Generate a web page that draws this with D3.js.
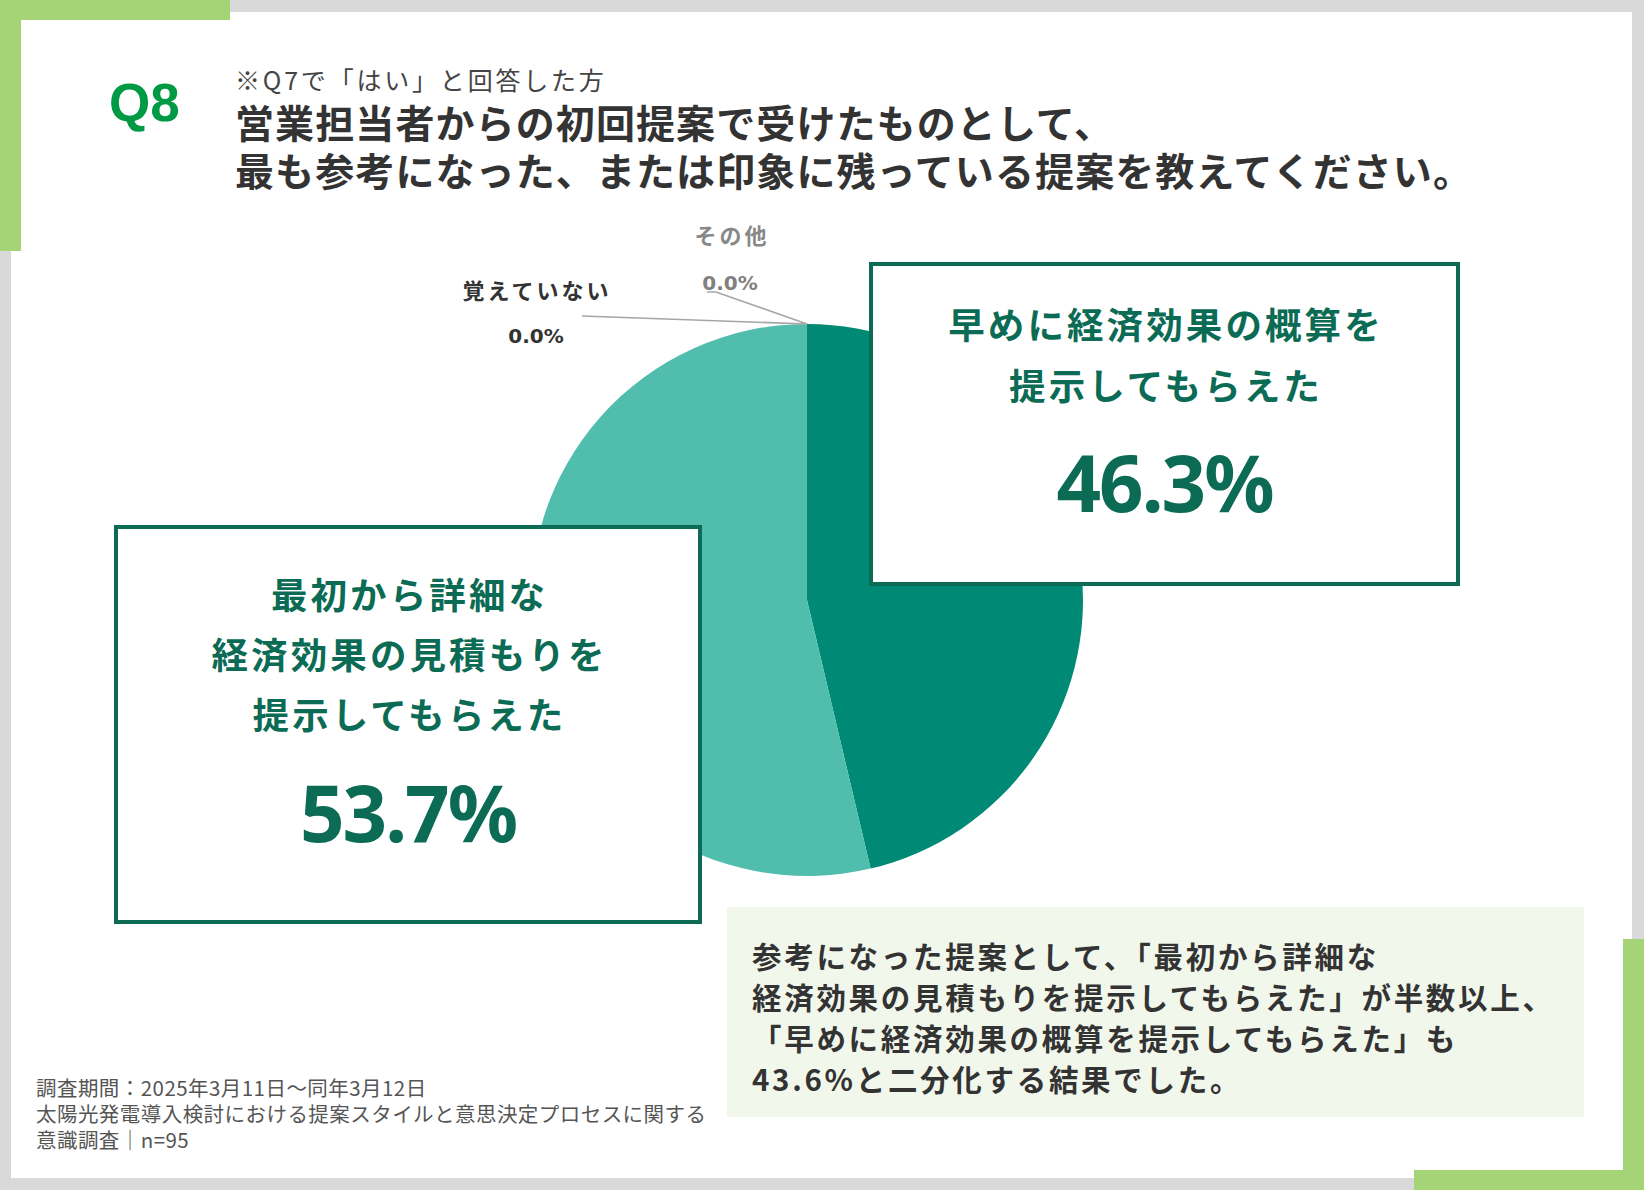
<!DOCTYPE html>
<html>
<head>
<meta charset="utf-8">
<script src="https://cdn.jsdelivr.net/npm/d3@7/dist/d3.min.js"></script>
<style>
  html, body { margin: 0; padding: 0; background: #d9d9d9; }
  svg { display: block; }
</style>
</head>
<body>
<svg id="chart" width="1644" height="1190"></svg>
<script>
// ---- data ----
const categories = ["早めに経済効果の概算を提示してもらえた", "最初から詳細な経済効果の見積もりを提示してもらえた", "覚えていない", "その他"];
const values = [46.3, 53.7, 0.0, 0.0];
const sliceColors = ["#008a76", "#50bdad", "#50bdad", "#50bdad"];
const box1Lines = ["早めに経済効果の概算を", "提示してもらえた"];
const box2Lines = ["最初から詳細な", "経済効果の見積もりを", "提示してもらえた"];
const titleLines = ["営業担当者からの初回提案で受けたものとして、", "最も参考になった、または印象に残っている提案を教えてください。"];
const subTitle = "※Q7で「はい」と回答した方";
const summaryLines = ["参考になった提案として、「最初から詳細な", "経済効果の見積もりを提示してもらえた」が半数以上、", "「早めに経済効果の概算を提示してもらえた」も", "43.6%と二分化する結果でした。"];
const footerLines = ["調査期間：2025年3月11日～同年3月12日", "太陽光発電導入検討における提案スタイルと意思決定プロセスに関する", "意識調査｜n=95"];

const JP = "'Noto Sans CJK JP', 'Noto Sans', sans-serif";
const svg = d3.select("#chart");

// ---- background frame ----
svg.append("rect").attr("x", 0).attr("y", 0).attr("width", 1644).attr("height", 1190).attr("fill", "#d9d9d9");
svg.append("rect").attr("x", 11).attr("y", 12).attr("width", 1621).attr("height", 1166).attr("fill", "#ffffff");
const green = "#a5d476";
svg.append("rect").attr("x", 0).attr("y", 0).attr("width", 230).attr("height", 20).attr("fill", green);
svg.append("rect").attr("x", 0).attr("y", 0).attr("width", 21).attr("height", 251).attr("fill", green);
svg.append("rect").attr("x", 1623).attr("y", 939).attr("width", 21).attr("height", 251).attr("fill", green);
svg.append("rect").attr("x", 1414).attr("y", 1170).attr("width", 230).attr("height", 20).attr("fill", green);

// ---- header ----
svg.append("text").attr("x", 109).attr("y", 121)
  .attr("font-family", "'Liberation Sans', Arial, sans-serif").attr("font-weight", 700)
  .attr("font-size", 53).attr("fill", "#009944").text("Q8");
svg.append("text").attr("x", 235).attr("y", 90)
  .attr("font-family", JP).attr("font-weight", 400).attr("font-size", 25)
  .attr("letter-spacing", 2.8).attr("fill", "#444").text(subTitle);
svg.selectAll("text.title").data(titleLines).join("text").attr("class", "title")
  .attr("x", 235).attr("y", (d, i) => 138 + i * 48)
  .attr("font-family", JP).attr("font-weight", 700).attr("font-size", 39)
  .attr("letter-spacing", 1.1)
  .attr("fill", "#333").text(d => d);

// ---- pie ----
const cx = 807, cy = 600, R = 276;
const pie = d3.pie().sort(null).value(d => d.v);
const arcs = pie(values.map((v, i) => ({ v, name: categories[i], color: sliceColors[i] })));
const arc = d3.arc().innerRadius(0).outerRadius(R);
const g = svg.append("g").attr("transform", `translate(${cx},${cy})`);
g.selectAll("path").data(arcs.filter(a => a.data.v > 0)).join("path")
  .attr("d", arc).attr("fill", d => d.data.color);

// zero-value slices: leader lines and labels
const zeroArcs = arcs.filter(a => a.data.v === 0);
function edgePoint(a) {
  const ang = a.startAngle;
  return [cx + R * Math.sin(ang), cy - R * Math.cos(ang)];
}
const fmt = d3.format(".1f");
zeroArcs.forEach(a => {
  const [px, py] = edgePoint(a);
  if (a.data.name === "覚えていない") {
    svg.append("path").attr("d", `M${px},${py} L${px - 225},${py - 8}`)
      .attr("stroke", "#a6a6a6").attr("stroke-width", 1.6).attr("fill", "none");
    svg.append("text").attr("x", px - 270).attr("y", py - 25).attr("text-anchor", "middle")
      .attr("font-family", JP).attr("font-weight", 700).attr("font-size", 22).attr("letter-spacing", 3)
      .attr("fill", "#333").text(a.data.name);
    svg.append("text").attr("x", px - 271).attr("y", py + 19).attr("text-anchor", "middle")
      .attr("font-family", "'DejaVu Sans', Verdana, sans-serif").attr("font-weight", 700).attr("font-size", 20)
      .attr("fill", "#333").text(fmt(a.data.v) + "%");
  } else {
    svg.append("path").attr("d", `M${px},${py} L${px - 91},${py - 32} L${px - 100},${py - 32}`)
      .attr("stroke", "#a6a6a6").attr("stroke-width", 1.6).attr("fill", "none");
    svg.append("text").attr("x", px - 75).attr("y", py - 80).attr("text-anchor", "middle")
      .attr("font-family", JP).attr("font-weight", 700).attr("font-size", 22).attr("letter-spacing", 3)
      .attr("fill", "#888").text(a.data.name);
    svg.append("text").attr("x", px - 77).attr("y", py - 34).attr("text-anchor", "middle")
      .attr("font-family", "'DejaVu Sans', Verdana, sans-serif").attr("font-weight", 700).attr("font-size", 20)
      .attr("fill", "#808080").text(fmt(a.data.v) + "%");
  }
});

// ---- callout boxes ----
const boxColor = "#0b6b55";
function callout(x, y, w, h, lines, lineY0, lineStep, value, numY) {
  svg.append("rect").attr("x", x).attr("y", y).attr("width", w).attr("height", h)
    .attr("fill", "#fff").attr("stroke", boxColor).attr("stroke-width", 4);
  const mid = x + w / 2;
  lines.forEach((t, i) => {
    svg.append("text").attr("x", mid + 1.5).attr("y", lineY0 + i * lineStep).attr("text-anchor", "middle")
      .attr("font-family", JP).attr("font-weight", 700).attr("font-size", 36.5).attr("letter-spacing", 3.1)
      .attr("fill", boxColor).text(t);
  });
  svg.append("text").attr("x", mid).attr("y", numY).attr("text-anchor", "middle")
    .attr("font-family", "'Noto Sans', 'Open Sans', sans-serif").attr("font-weight", 700).attr("font-size", 78)
    .attr("letter-spacing", -2)
    .attr("fill", boxColor).text(fmt(value) + "%");
}
callout(871, 264, 587, 320, box1Lines, 339, 61, values[0], 512);
callout(116, 527, 584, 395, box2Lines, 609, 60, values[1], 842);

// ---- summary box ----
svg.append("rect").attr("x", 727).attr("y", 907).attr("width", 857).attr("height", 210).attr("fill", "#f2f7ec");
svg.selectAll("text.summary").data(summaryLines).join("text").attr("class", "summary")
  .attr("x", 752).attr("y", (d, i) => 968 + i * 41)
  .attr("font-family", JP).attr("font-weight", 700).attr("font-size", 29.5).attr("letter-spacing", 2.7)
  .attr("fill", "#333").text(d => d);

// ---- footer ----
svg.selectAll("text.footer").data(footerLines).join("text").attr("class", "footer")
  .attr("x", 36).attr("y", (d, i) => 1096 + i * 26)
  .attr("font-family", JP).attr("font-weight", 400).attr("font-size", 20.5).attr("letter-spacing", 0.45)
  .attr("fill", "#555").text(d => d);
</script>
</body>
</html>
